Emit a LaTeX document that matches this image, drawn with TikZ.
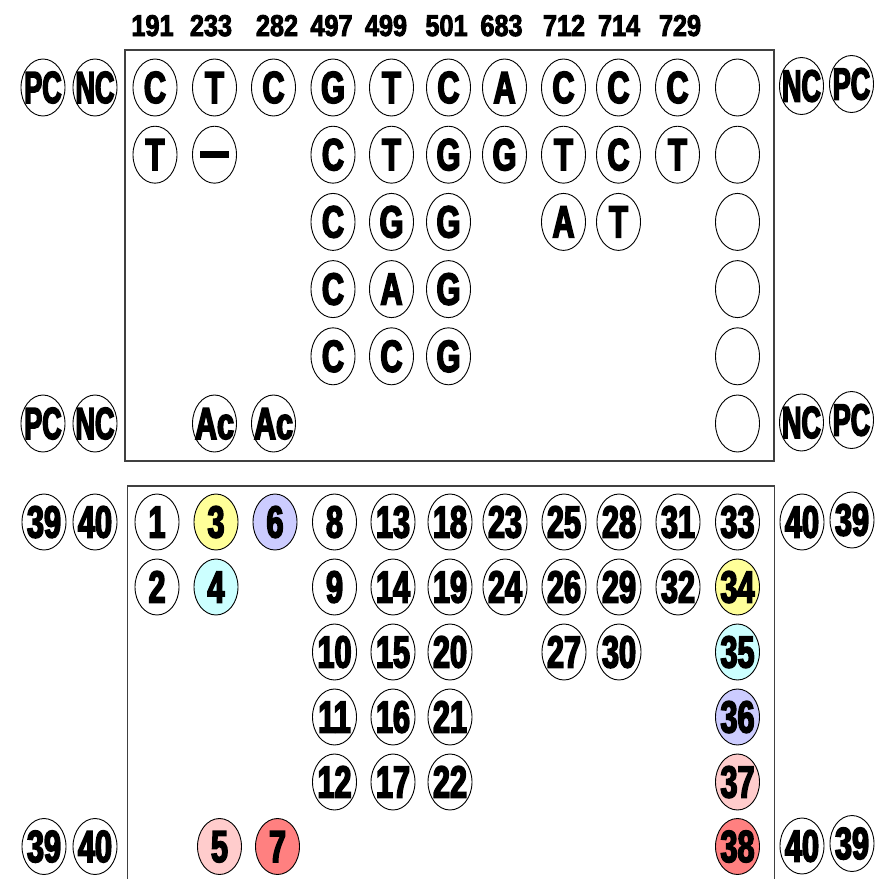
\documentclass[tikz,border=0pt]{standalone}
\usepackage{fontspec}
\usepackage{graphicx}
\usetikzlibrary{shapes.geometric}
\newfontfamily\cellfamily{Liberation Sans}[UprightFont=* Bold, FakeStretch=0.68, FakeBold=3.5]
\newfontfamily\lblfamily{Liberation Sans}[UprightFont=* Bold, FakeStretch=0.84, FakeBold=3]
\newcommand\cfnt{\cellfamily\fontsize{45pt}{45pt}\selectfont}
\newcommand\lfnt{\lblfamily\fontsize{30pt}{30pt}\selectfont}
\newcommand\sq[1]{\scalebox{0.88}[1]{#1}}
\definecolor{yel}{HTML}{FFFF99}
\definecolor{cyn}{HTML}{CCFFFF}
\definecolor{lav}{HTML}{CCCCFF}
\definecolor{pnk}{HTML}{FFCCCC}
\definecolor{rd}{HTML}{FF8080}
\tikzset{
  cell/.style={draw=black, line width=0.9pt, ellipse, minimum width=44pt, minimum height=57pt,
    inner sep=0pt, text height=31pt, text depth=0pt, font=\cfnt, fill=white},
  bcell/.style={cell, minimum height=56pt},
  lbl/.style={font=\lfnt, inner sep=0pt, anchor=base},
  frame/.style={draw=black!75, line width=1.3pt}
}
\begin{document}
\begin{tikzpicture}[x=1pt,y=-1pt]
\useasboundingbox (0,0) rectangle (879,879);
\clip (0,0) rectangle (879,879);
\fill[white] (0,0) rectangle (879,879);
% frames
\draw[frame] (125,50) rectangle (774,461);
\draw[frame] (127.5,486) rectangle (774.5,900);
% position labels
\foreach \x/\t [count=\i] in {152.5/191,211/233,277/282,331.5/497,386/499,446.5/501,501.5/683,564/712,619/714,680/729}
  \node[lbl] (pos\i) at (\x,36) {\t};
% top panel
\node[cell] (tpcA) at (43,87.5) {\makebox[0pt]{\sq{PC}}};
\node[cell] (tncA) at (95,87.5) {\makebox[0pt]{\sq{NC}}};
\node[cell] (tncB) at (801.5,86) {\makebox[0pt]{\sq{NC}}};
\node[cell] (tpcB) at (851.5,84) {\makebox[0pt]{\sq{PC}}};
\node[cell] (tpcC) at (43,423.5) {\makebox[0pt]{\sq{PC}}};
\node[cell] (tncC) at (95,423.5) {\makebox[0pt]{\sq{NC}}};
\node[cell] (tncD) at (801.5,422.5) {\makebox[0pt]{\sq{NC}}};
\node[cell] (tpcD) at (851.5,420) {\makebox[0pt]{\sq{PC}}};
\foreach \x/\t [count=\i] in {155/C,214.5/T,273.5/C,333/G,391.5/T,448.5/C,504.5/A,563.5/C,618.5/C,677.5/C,737.5/{}}
  \node[cell] (ta\i) at (\x,87.5) {\makebox[0pt]{\t}};
\foreach \x/\t [count=\i] in {155/T,214.5/{\rule[12pt]{29pt}{7pt}},333/C,391.5/T,448.5/G,504.5/G,563.5/T,618.5/C,677.5/T,737.5/{}}
  \node[cell] (tb\i) at (\x,154.7) {\makebox[0pt]{\t}};
\foreach \x/\t [count=\i] in {333/C,391.5/G,448.5/G,563.5/A,618.5/T,737.5/{}}
  \node[cell] (tc\i) at (\x,221.9) {\makebox[0pt]{\t}};
\foreach \x/\t [count=\i] in {333/C,391.5/A,448.5/G,737.5/{}}
  \node[cell] (td\i) at (\x,289.1) {\makebox[0pt]{\t}};
\foreach \x/\t [count=\i] in {333/C,391.5/C,448.5/G,737.5/{}}
  \node[cell] (te\i) at (\x,356.3) {\makebox[0pt]{\t}};
\foreach \x/\t [count=\i] in {214.5/Ac,273.5/Ac,737.5/{}}
  \node[cell] (tf\i) at (\x,423.5) {\makebox[0pt]{\t}};
% bottom panel
\node[bcell] (b39A) at (44,522) {\makebox[0pt]{39}};
\node[bcell] (b40A) at (95,522) {\makebox[0pt]{40}};
\node[bcell] (b40B) at (802,522) {\makebox[0pt]{40}};
\node[bcell] (b39B) at (852,520) {\makebox[0pt]{39}};
\node[bcell] (b39C) at (44,846.5) {\makebox[0pt]{39}};
\node[bcell] (b40C) at (95,846.5) {\makebox[0pt]{40}};
\node[bcell] (b40D) at (802,846) {\makebox[0pt]{40}};
\node[bcell] (b39D) at (852,843.5) {\makebox[0pt]{39}};
\foreach \x/\t/\f [count=\i] in {157/1/white,216/3/yel,275/6/lav,334.5/8/white,393/13/white,450/18/white,505/23/white,564/25/white,619/28/white,678/31/white,737.5/33/white}
  \node[bcell, fill=\f] (ba\i) at (\x,522) {\makebox[0pt]{\t}};
\foreach \x/\t/\f [count=\i] in {157/2/white,216/4/cyn,334.5/9/white,393/14/white,450/19/white,505/24/white,564/26/white,619/29/white,678/32/white,737.5/34/yel}
  \node[bcell, fill=\f] (bb\i) at (\x,587) {\makebox[0pt]{\t}};
\foreach \x/\t/\f [count=\i] in {334.5/10/white,393/15/white,450/20/white,564/27/white,619/30/white,737.5/35/cyn}
  \node[bcell, fill=\f] (bc\i) at (\x,652) {\makebox[0pt]{\t}};
\foreach \x/\t/\f [count=\i] in {334.5/11/white,393/16/white,450/21/white,737.5/36/lav}
  \node[bcell, fill=\f] (bd\i) at (\x,717) {\makebox[0pt]{\t}};
\foreach \x/\t/\f [count=\i] in {334.5/12/white,393/17/white,450/22/white,737.5/37/pnk}
  \node[bcell, fill=\f] (be\i) at (\x,782) {\makebox[0pt]{\t}};
\foreach \x/\t/\f [count=\i] in {219.5/5/pnk,277.5/7/rd,737.5/38/rd}
  \node[bcell, fill=\f] (bf\i) at (\x,846.5) {\makebox[0pt]{\t}};
\end{tikzpicture}
\end{document}
